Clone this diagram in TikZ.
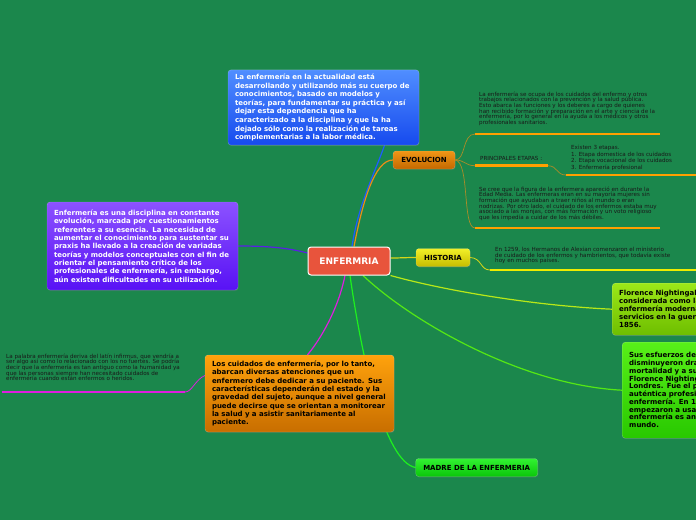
\documentclass[tikz,border=0pt]{standalone}
\usepackage{fontspec}
\setmainfont{DejaVu Sans}
\usetikzlibrary{shadows, backgrounds}

\definecolor{mapbg}{RGB}{27,135,76}
\definecolor{rootred}{RGB}{232,84,60}
\definecolor{blueT}{RGB}{80,142,255}
\definecolor{blueB}{RGB}{22,74,238}
\definecolor{purpT}{RGB}{140,82,255}
\definecolor{purpB}{RGB}{88,18,245}
\definecolor{orgT}{RGB}{255,162,12}
\definecolor{orgB}{RGB}{200,110,0}
\definecolor{evoT}{RGB}{240,150,22}
\definecolor{evoB}{RGB}{196,104,0}
\definecolor{yelT}{RGB}{242,240,40}
\definecolor{yelB}{RGB}{198,188,0}
\definecolor{madT}{RGB}{50,242,50}
\definecolor{madB}{RGB}{10,198,10}
\definecolor{floT}{RGB}{156,232,24}
\definecolor{floB}{RGB}{110,190,0}
\definecolor{susT}{RGB}{88,240,24}
\definecolor{susB}{RGB}{40,200,0}
\definecolor{linkblue}{RGB}{30,92,255}
\definecolor{linkpurp}{RGB}{90,30,230}
\definecolor{linkmag}{RGB}{222,30,222}
\definecolor{linkorg}{RGB}{232,142,24}
\definecolor{linkyel}{RGB}{214,214,24}
\definecolor{linklime}{RGB}{184,232,24}
\definecolor{linkgrn}{RGB}{84,232,20}
\definecolor{linkmad}{RGB}{30,240,30}
\definecolor{linkolive}{RGB}{170,140,40}
\definecolor{ulorange}{RGB}{255,160,0}
\definecolor{ulyellow}{RGB}{238,236,0}

\begin{document}
\begin{tikzpicture}[
    x=1pt, y=-1pt,
    every node/.style={inner sep=0pt},
    topic/.style 2 args={rounded corners=3pt, top color=#1, bottom color=#2, draw=white, draw opacity=0.3,
        drop shadow={opacity=0.25, shadow xshift=0.6pt, shadow yshift=-1pt}},
    bigbox/.style={font=\fontsize{7}{8.6}\selectfont\bfseries, text width=177pt, align=left, inner xsep=7pt, inner ysep=4pt},
    tag/.style={font=\fontsize{7}{8}\selectfont\bfseries},
    small/.style={font=\fontsize{5.6}{5.7}\selectfont, align=left, anchor=north west, text=black!90},
    link/.style={line width=1.2pt, #1},
    sublink/.style={line width=0.7pt, linkolive},
    uline/.style={line width=2.6pt, #1},
]
    \clip (0,0) rectangle (696,520);

    % Centre topic
    \node[rounded corners=3pt, fill=rootred, draw=white, line width=1pt, minimum width=82pt, minimum height=28pt,
          text=white, font=\fontsize{9}{10}\selectfont\bfseries] (root) at (349,261) {ENFERMRIA};

    % Main boxes
    \node[topic={blueT}{blueB}, bigbox, text=white, minimum height=75pt] (blue) at (323.5,107.5)
        {La enfermería en la actualidad está\\desarrollando y utilizando más su cuerpo de\\conocimientos, basado en modelos y\\teorías, para fundamentar su práctica y así\\dejar esta dependencia que ha\\caracterizado a la disciplina y que la ha\\dejado sólo como la realización de tareas\\complementarias a la labor médica.};
    \node[topic={purpT}{purpB}, bigbox, font=\fontsize{7}{8.35}\selectfont\bfseries, text=white, minimum height=88pt] (purple) at (142.5,246)
        {Enfermería es una disciplina en constante\\evolución, marcada por cuestionamientos\\referentes a su esencia. La necesidad de\\aumentar el conocimiento para sustentar su\\praxis ha llevado a la creación de variadas\\teorías y modelos conceptuales con el fin de\\orientar el pensamiento crítico de los\\profesionales de enfermería, sin embargo,\\aún existen dificultades en su utilización.};
    \node[topic={orgT}{orgB}, bigbox, font=\fontsize{7}{8.35}\selectfont\bfseries, text width=175pt, text=black, minimum height=77pt] (obox) at (299.5,393.5)
        {Los cuidados de enfermería, por lo tanto,\\abarcan diversas atenciones que un\\enfermero debe dedicar a su paciente. Sus\\características dependerán del estado y la\\gravedad del sujeto, aunque a nivel general\\puede decirse que se orientan a monitorear\\la salud y a asistir sanitariamente al\\paciente.};
    \node[topic={floT}{floB}, bigbox, font=\fontsize{7}{8}\selectfont\bfseries, text=black, minimum height=52pt, anchor=north west] (flo) at (612,283)
        {Florence Nightingal\\considerada como la\\enfermería moderna\\servicios en la guer\\1856.};
    \node[topic={susT}{susB}, bigbox, font=\fontsize{7}{7.75}\selectfont\bfseries, text=black, minimum height=96pt, anchor=north west] (sus) at (622,342)
        {Sus esfuerzos de\\disminuyeron dra\\mortalidad y a su\\Florence Nighting\\Londres. Fue el p\\auténtica profesi\\enfermería. En 1\\empezaron a usa\\enfermería es an\\mundo.};

    % Small topics
    \node[topic={evoT}{evoB}, tag, minimum width=62pt, minimum height=18pt] (evo) at (424,160) {EVOLUCION};
    \node[topic={yelT}{yelB}, tag, minimum width=54pt, minimum height=18pt] (hist) at (443,257.5) {HISTORIA};
    \node[topic={madT}{madB}, tag, minimum width=122pt, minimum height=18pt] (madre) at (476.7,467.5) {MADRE DE LA ENFERMERIA};

    % Links from the centre, under the boxes
    \begin{scope}[on background layer]
    \fill[mapbg, use as bounding box] (0,0) rectangle (696,520);
    \clip (0,0) rectangle (696,520);
    \draw[link=linkblue] ([xshift=3pt]root.north) .. controls (358,205) and (376,170) .. ([xshift=61pt]blue.south);
    \draw[link=linkorg] ([xshift=5pt]root.north) .. controls (362,205) and (374,160) .. (evo.west);
    \draw[link=linkpurp] ([yshift=8pt]root.west) .. controls (285,247) and (262,246) .. (purple.east);
    \draw[link=linkyel] ([yshift=3pt]root.east) to[out=0, in=180] (hist.west);
    \draw[link=linklime] (root.south east) .. controls (450,292) and (540,306) .. (flo.west);
    \draw[link=linkgrn] ([xshift=14pt]root.south) .. controls (410,320) and (520,385) .. (sus.west);
    \draw[link=linkmad] ([xshift=1pt]root.south) .. controls (362,360) and (385,462) .. (madre.west);
    \draw[link=linkmag] ([xshift=-4pt]root.south) .. controls (338,310) and (320,340) .. ([xshift=8pt]obox.north);
    \draw[link=linkmag, line width=0.8pt] ([yshift=18pt]obox.west) .. controls (195,380) and (192,392) .. (185,392);
    \end{scope}

    % EVOLUCION branches
    \coordinate (e1s) at (475,134);   \coordinate (e1e) at (660,134);
    \coordinate (e2s) at (475,165.7); \coordinate (e2e) at (548,165.7);
    \coordinate (e3s) at (475,228);   \coordinate (e3e) at (660,228);
    \coordinate (e4s) at (566,175);   \coordinate (e4e) at (700,175);
    \draw[sublink] (evo.east) .. controls (466,160) and (462,134) .. (e1s);
    \draw[sublink] (evo.east) .. controls (465,160) and (465,165.7) .. (e2s);
    \draw[sublink] (evo.east) .. controls (470,162) and (462,228) .. (e3s);
    \draw[sublink] (e2e) .. controls (558,166) and (556,175) .. (e4s);
    \draw[uline=ulorange] (e1s) -- (e1e);
    \draw[uline=ulorange] (e2s) -- (e2e);
    \draw[uline=ulorange] (e3s) -- (e3e);
    \draw[uline=ulorange] (e4s) -- (e4e);

    \node[small] (e1) at (479,91.5)
        {La enfermería se ocupa de los cuidados del enfermo y otros\\trabajos relacionados con la prevención y la salud pública.\\Esto abarca las funciones y los deberes a cargo de quienes\\han recibido formación y preparación en el arte y ciencia de la\\enfermería, por lo general en la ayuda a los médicos y otros\\profesionales sanitarios.};
    \node[small] (e2) at (480,156) {PRINCIPALES ETAPAS :};
    \node[small, font=\fontsize{5.6}{6.6}\selectfont] (e4) at (571,145)
        {Existen 3 etapas.\\1. Etapa domestica de los cuidados\\2. Etapa vocacional de los cuidados\\3. Enfermería profesional};
    \node[small] (e3) at (479,186.5)
        {Se cree que la figura de la enfermera apareció en durante la\\Edad Media. Las enfermeras eran en su mayoría mujeres sin\\formación que ayudaban a traer niños al mundo o eran\\nodrizas. Por otro lado, el cuidado de los enfermos estaba muy\\asociado a las monjas, con más formación y un voto religioso\\que les impedía a cuidar de los más débiles.};

    % HISTORIA branch
    \coordinate (h1s) at (490,270); \coordinate (h1e) at (700,270);
    \draw[link=linkyel, line width=0.8pt] (hist.east) .. controls (482,258) and (480,270) .. (h1s);
    \draw[uline=ulyellow] (h1s) -- (h1e);
    \node[small] (h1) at (495,247)
        {En 1259, los Hermanos de Alexian comenzaron el ministerio\\de cuidado de los enfermos y hambrientos, que todavía existe\\hoy en muchos países.};

    % Left note of the orange box
    \coordinate (lts) at (2,392); \coordinate (lte) at (185,392);
    \draw[uline=linkmag] (lts) -- (lte);
    \node[small] (lt) at (6,353.5)
        {La palabra enfermería deriva del latín infirmus, que vendría a\\ser algo así como lo relacionado con los no fuertes. Se podría\\decir que la enfermería es tan antiguo como la humanidad ya\\que las personas siempre han necesitado cuidados de\\enfermería cuando están enfermos o heridos.};
\end{tikzpicture}
\end{document}
